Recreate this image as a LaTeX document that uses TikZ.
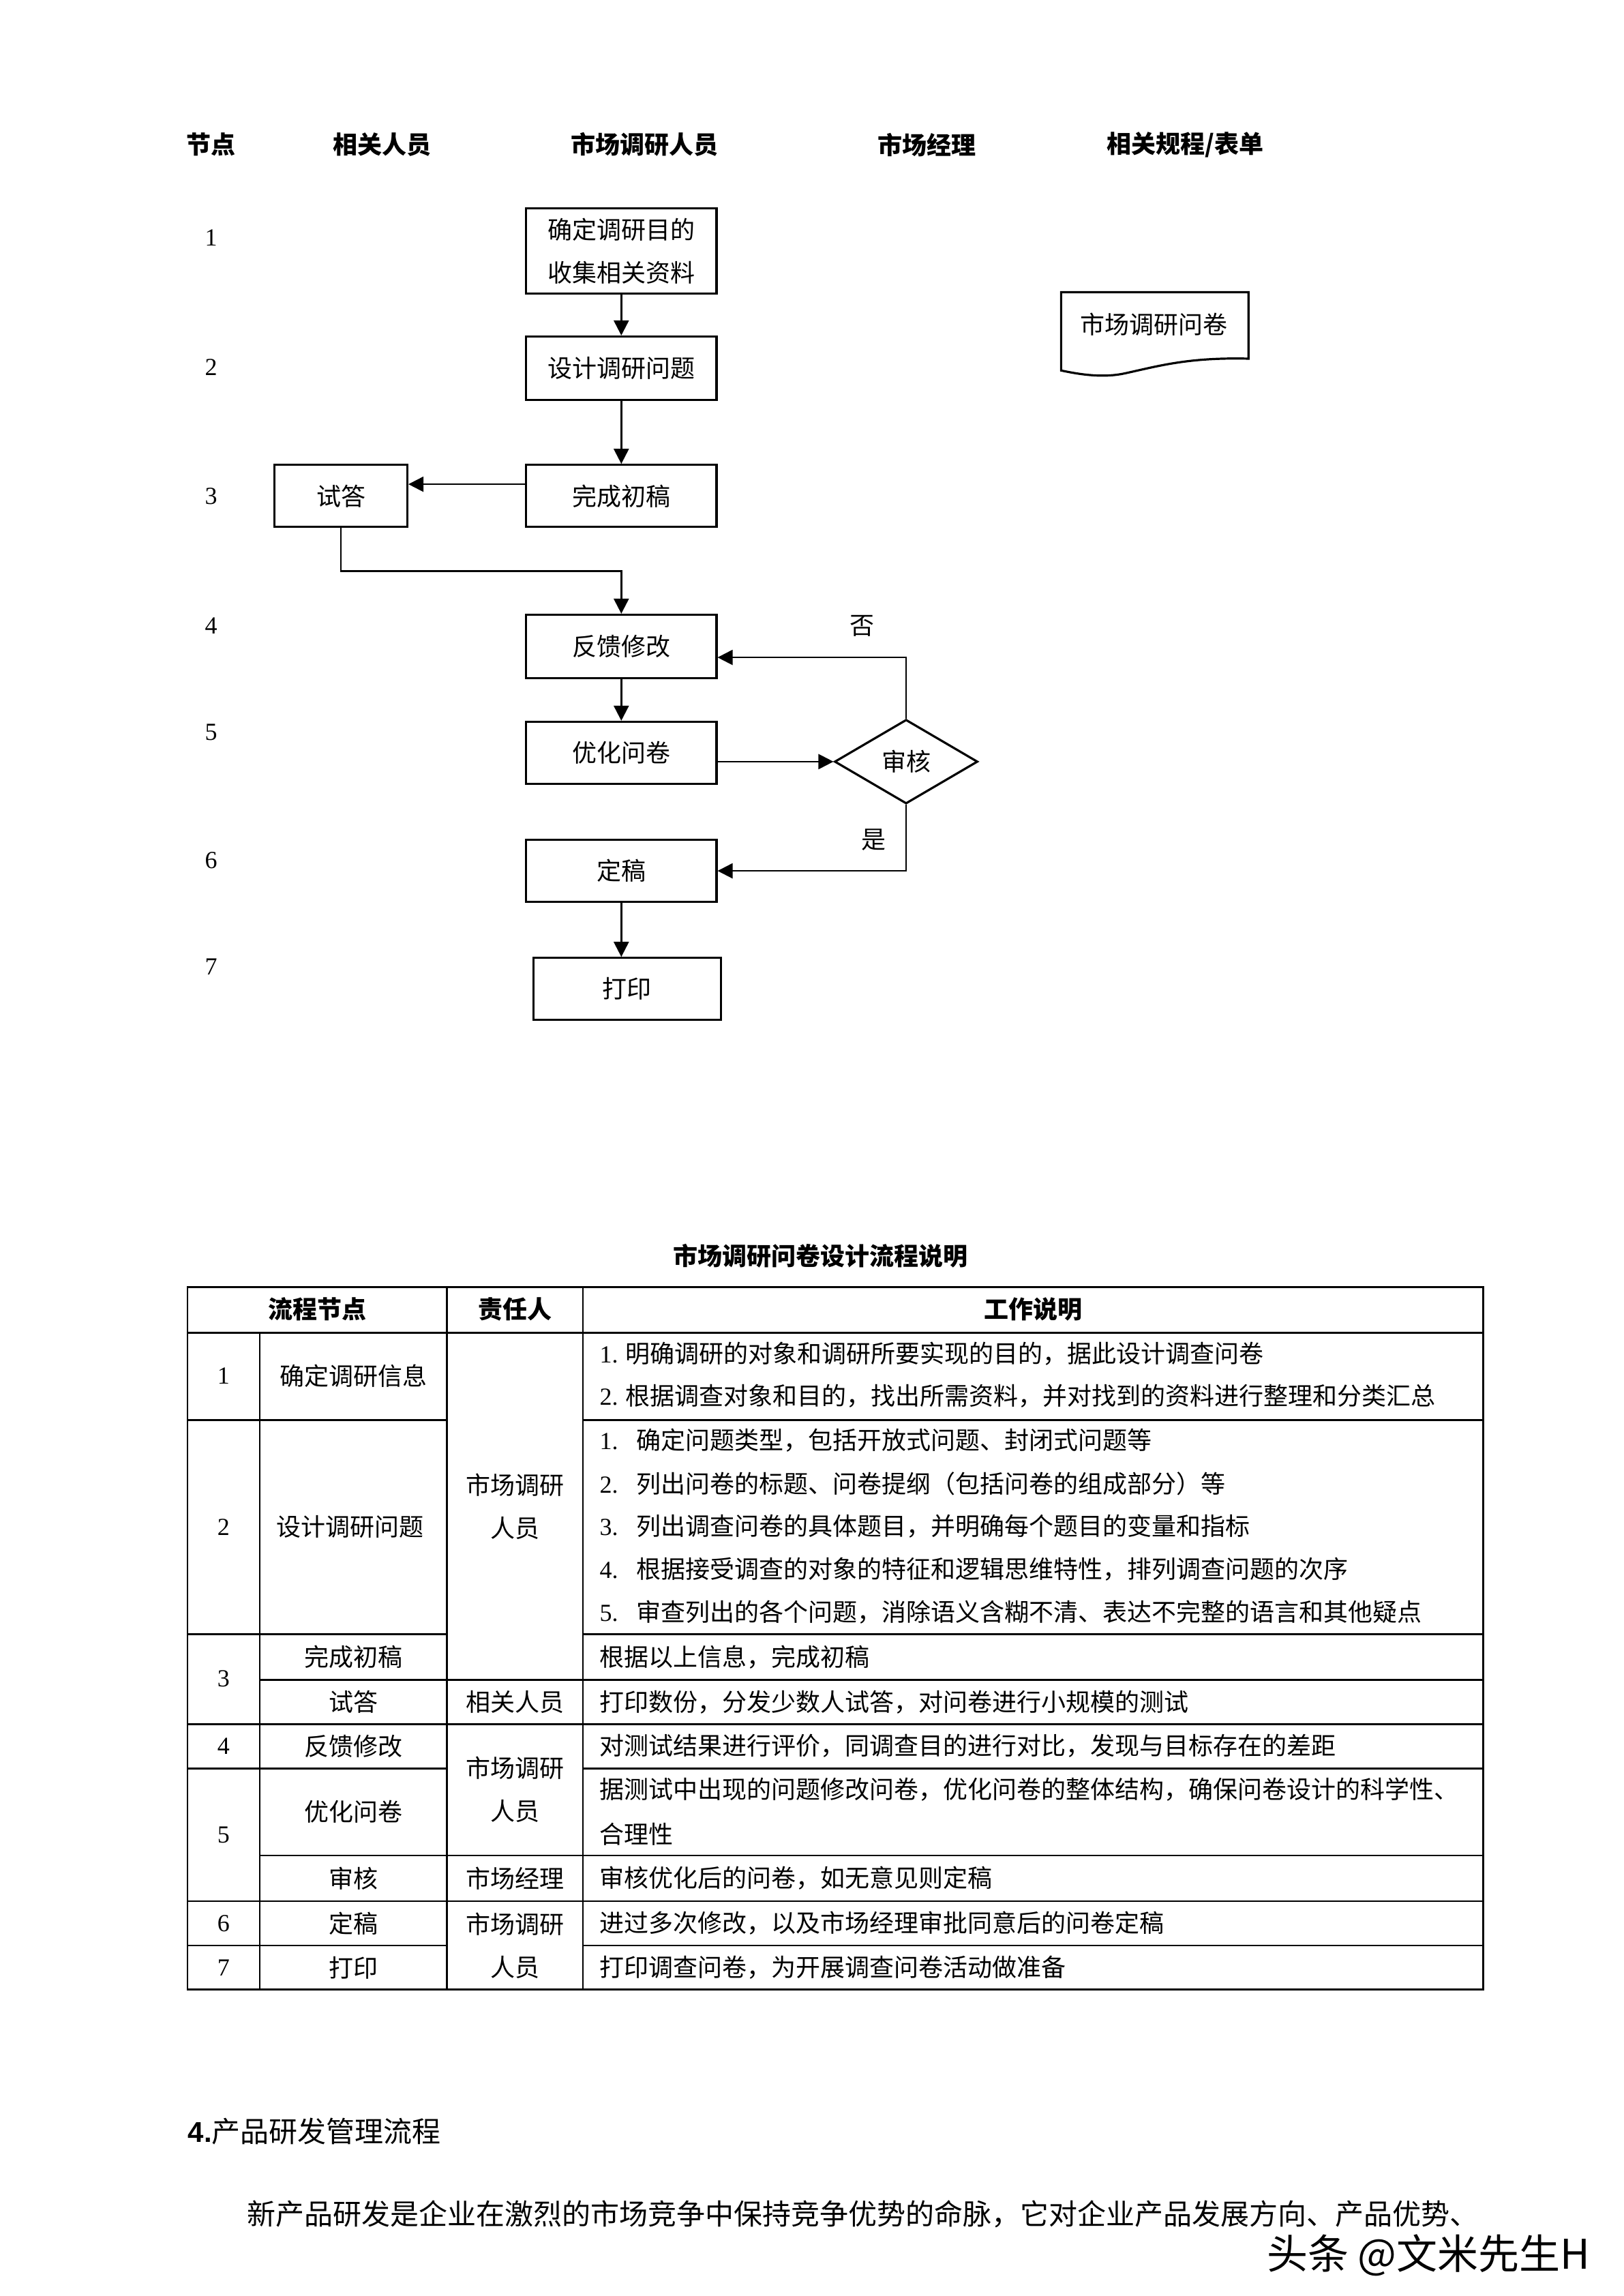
\documentclass[tikz,border=0pt]{standalone}
\usepackage{fontspec}
\setmainfont{Noto Sans CJK SC}
\newfontfamily\lat{Liberation Serif}
\newfontfamily\latsans{Liberation Sans}
\usetikzlibrary{arrows.meta,shapes.geometric,calc}
\newcommand\ux{0.541136pt}
\begin{document}
\begin{tikzpicture}[x=0.541136pt,y=-0.541136pt,
  font=\fontsize{9}{11}\selectfont,
  box/.style={draw, line width=0.8pt, minimum width=129*\ux, minimum height=43*\ux, inner sep=0pt},
  arr/.style={line width=0.6pt, -{Triangle[length=5.5pt,width=5.5pt]}},
  lab/.style={inner sep=0pt},
  hd/.style={inner sep=0pt, font=\fontsize{9}{11}\selectfont\bfseries},
  cell/.style={inner sep=0pt},
  txt/.style={anchor=west, inner sep=0pt},
  grid/.style={line width=0.7pt}]
\fill[white] (0,0) rectangle (1100,1555.5);
\useasboundingbox (0,0) rectangle (1100,1555.5);

% column headers
\node[hd] (h1) at (143,98) {节点};
\node[hd] (h2) at (259,98) {相关人员};
\node[hd] (h3) at (437,98) {市场调研人员};
\node[hd] (h4) at (628,98) {市场经理};
\node[hd] (h5) at (803,98) {相关规程/表单};

% node numbers
\node[lab] (n1) at (143,161) {\lat 1};
\node[lab] (n2) at (143,249) {\lat 2};
\node[lab] (n3) at (143,336) {\lat 3};
\node[lab] (n4) at (143,424) {\lat 4};
\node[lab] (n5) at (143,496) {\lat 5};
\node[lab] (n6) at (143,583) {\lat 6};
\node[lab] (n7) at (143,655) {\lat 7};

% flow boxes
\node[box, minimum height=58*\ux, align=center, font=\fontsize{9}{15.7}\selectfont] (b1) at (421,170) {确定调研目的\\收集相关资料};
\node[box] (b2) at (421,249.5) {设计调研问题};
\node[box, minimum height=42*\ux] (b3) at (421,336) {完成初稿};
\node[box, minimum width=90*\ux, minimum height=42*\ux] (ts) at (231,336) {试答};
\node[box] (b4) at (421,438) {反馈修改};
\node[box, minimum height=42*\ux] (b5) at (421,510) {优化问卷};
\node[draw, diamond, line width=0.8pt, minimum width=97*\ux, minimum height=57*\ux, aspect=1.7, inner sep=0pt] (dm) at (614,516) {审核};
\node[box, minimum height=42*\ux] (b6) at (421,590) {定稿};
\node[box, minimum width=127*\ux, minimum height=42*\ux] (b7) at (425,670) {打印};

% document symbol
\draw[line width=0.8pt] (719,198) -- (846,198) -- (846,243)
  .. controls (805,242) and (785,248) .. (762,253)
  .. controls (748,256) and (733,254) .. (719,251) -- cycle;
\node[lab] (doc) at (782,220) {市场调研问卷};

% connectors
\draw[arr] (b1.south) -- (b2.north);
\draw[arr] (b2.south) -- (b3.north);
\draw[arr] ([yshift=4.3pt]b3.west) -- ([yshift=4.3pt]ts.east);
\coordinate (j1) at (231,387);
\draw[arr] (ts.south) -- (j1) -| (b4.north);
\draw[arr] (b4.south) -- (b5.north);
\draw[arr] (b5.east |- dm.west) -- (dm.west);
\draw[arr] (dm.north) |- ([yshift=-4pt]b4.east);
\draw[arr] (dm.south) |- (b6.east);
\draw[arr] (b6.south) -- (b6.south |- b7.north);
\node[lab] (no) at (584,424) {否};
\node[lab] (yes) at (592,569) {是};

% table title
\node[hd] (tt) at (556,851) {市场调研问卷设计流程说明};

% table grid
\draw[grid] (127,872) rectangle (1005,1348);
\draw[grid] (176,903) -- (176,1348);
\draw[grid] (303,872) -- (303,1348);
\draw[grid] (395,872) -- (395,1348);
\draw[grid] (127,903) -- (1005,903);
\draw[grid] (127,962) -- (303,962) (395,962) -- (1005,962);
\draw[grid] (127,1107) -- (303,1107) (395,1107) -- (1005,1107);
\draw[grid] (176,1138) -- (1005,1138);
\draw[grid] (127,1168) -- (1005,1168);
\draw[grid] (127,1198) -- (303,1198) (395,1198) -- (1005,1198);
\draw[grid] (176,1257) -- (1005,1257);
\draw[grid] (127,1288) -- (1005,1288);
\draw[grid] (127,1318) -- (303,1318) (395,1318) -- (1005,1318);

% header row
\node[hd] (th1) at (215,887) {流程节点};
\node[hd] (th2) at (349,887) {责任人};
\node[hd] (th3) at (700,887) {工作说明};

% column 1
\node[cell] (c11) at (151.5,932) {\lat 1};
\node[cell] (c12) at (151.5,1034.5) {\lat 2};
\node[cell] (c13) at (151.5,1137.5) {\lat 3};
\node[cell] (c14) at (151.5,1183) {\lat 4};
\node[cell] (c15) at (151.5,1243) {\lat 5};
\node[cell] (c16) at (151.5,1303) {\lat 6};
\node[cell] (c17) at (151.5,1333) {\lat 7};

% column 2
\node[cell] (c21) at (239.5,932) {确定调研信息};
\node[cell] (c22) at (237,1034.5) {设计调研问题};
\node[cell] (c23) at (239.5,1122.5) {完成初稿};
\node[cell] (c24) at (239.5,1153) {试答};
\node[cell] (c25) at (239.5,1183) {反馈修改};
\node[cell] (c26) at (239.5,1227.5) {优化问卷};
\node[cell] (c27) at (239.5,1272.5) {审核};
\node[cell] (c28) at (239.5,1303) {定稿};
\node[cell] (c29) at (239.5,1333) {打印};

% column 3
\node[cell, align=center, font=\fontsize{9}{15.7}\selectfont] (c31) at (349,1020.5) {市场调研\\人员};
\node[cell] (c32) at (349,1153) {相关人员};
\node[cell, align=center, font=\fontsize{9}{15.7}\selectfont] (c33) at (349,1212.5) {市场调研\\人员};
\node[cell] (c34) at (349,1272.5) {市场经理};
\node[cell, align=center, font=\fontsize{9}{15.7}\selectfont] (c35) at (349,1318) {市场调研\\人员};

% column 4
\node[txt] (d1) at (406,917) {{\lat 1.} 明确调研的对象和调研所要实现的目的，据此设计调查问卷};
\node[txt] (d2) at (406,946) {{\lat 2.} 根据调查对象和目的，找出所需资料，并对找到的资料进行整理和分类汇总};
\node[txt] (d3) at (406,976) {\makebox[13.5pt][l]{\lat 1.}确定问题类型，包括开放式问题、封闭式问题等};
\node[txt] (d4) at (406,1005) {\makebox[13.5pt][l]{\lat 2.}列出问卷的标题、问卷提纲（包括问卷的组成部分）等};
\node[txt] (d5) at (406,1034) {\makebox[13.5pt][l]{\lat 3.}列出调查问卷的具体题目，并明确每个题目的变量和指标};
\node[txt] (d6) at (406,1063) {\makebox[13.5pt][l]{\lat 4.}根据接受调查的对象的特征和逻辑思维特性，排列调查问题的次序};
\node[txt] (d7) at (406,1092) {\makebox[13.5pt][l]{\lat 5.}审查列出的各个问题，消除语义含糊不清、表达不完整的语言和其他疑点};
\node[txt] (d8) at (406,1122.5) {根据以上信息，完成初稿};
\node[txt] (d9) at (406,1153) {打印数份，分发少数人试答，对问卷进行小规模的测试};
\node[txt] (d10) at (406,1183) {对测试结果进行评价，同调查目的进行对比，发现与目标存在的差距};
\node[txt] (d11) at (406,1212.5) {据测试中出现的问题修改问卷，优化问卷的整体结构，确保问卷设计的科学性、};
\node[txt] (d12) at (406,1242.5) {合理性};
\node[txt] (d13) at (406,1272.5) {审核优化后的问卷，如无意见则定稿};
\node[txt] (d14) at (406,1303) {进过多次修改，以及市场经理审批同意后的问卷定稿};
\node[txt] (d15) at (406,1333) {打印调查问卷，为开展调查问卷活动做准备};

% following text
\node[txt, font=\fontsize{10.5}{12}\selectfont] (sec) at (127,1444) {{\latsans\bfseries 4.}产品研发管理流程};
\node[txt, font=\fontsize{10.5}{12}\selectfont] (para) at (167,1500) {新产品研发是企业在激烈的市场竞争中保持竞争优势的命脉，它对企业产品发展方向、产品优势、};
\node[txt, font=\fontsize{15}{17}\selectfont] (wm) at (858,1528) {头条 @文米先生H};
\end{tikzpicture}
\end{document}
